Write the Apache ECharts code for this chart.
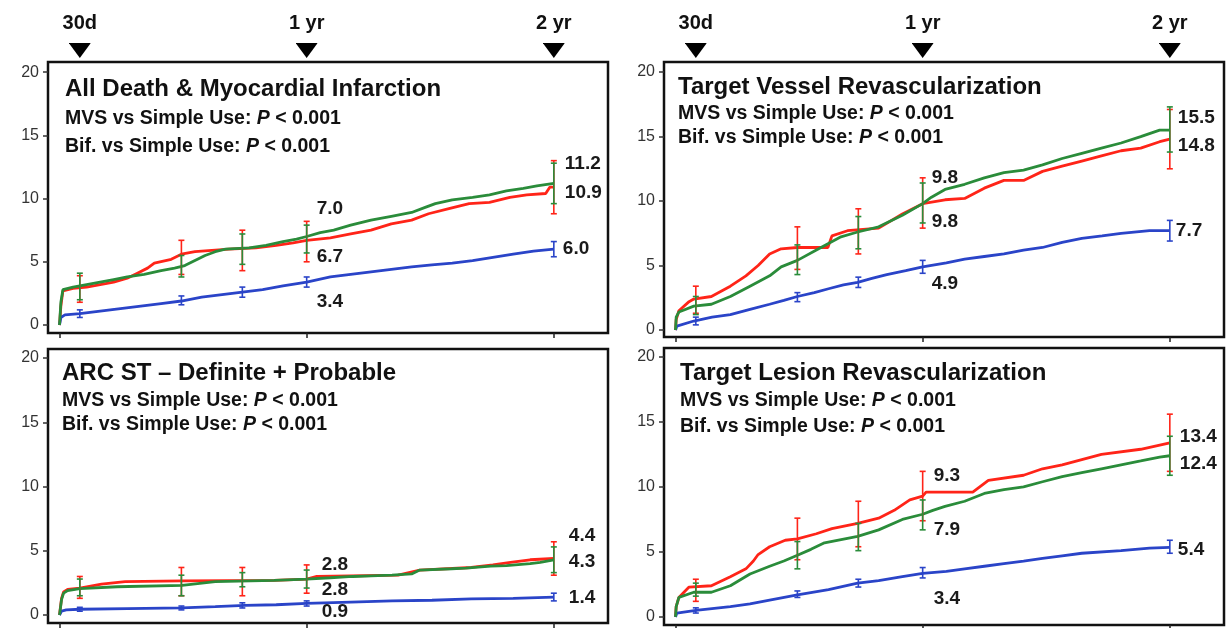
<!DOCTYPE html>
<html><head><meta charset="utf-8">
<script src="https://cdn.jsdelivr.net/npm/echarts@6/dist/echarts.min.js"></script>
<style>html,body{margin:0;padding:0;background:#fff}#c{width:1226px;height:628px}</style>
</head><body><div id="c"></div>
<script>
// ---------- DATA ----------
const yTicks = [0, 5, 10, 15, 20];
const markerDays = [30, 365, 730];
const markerNames = ['30d', '1 yr', '2 yr'];
const bottomTickDays = [0, 365, 730];
const panelTitles = ['All Death & Myocardial Infarction', 'Target Vessel Revascularization',
  'ARC ST \u2013 Definite + Probable', 'Target Lesion Revascularization'];
const compareTexts = ['MVS vs Simple Use: ', 'Bif. vs Simple Use: '];
const pValueText = ' < 0.001';
const seriesNames = ['MVS', 'Bifurcation', 'Simple Use'];

// Top-left: All Death & MI  (days, cumulative %)
const tlRed = [[0,0],[2,1.5],[5,2.7],[20,2.9],[40,3.0],[60,3.2],[80,3.4],[100,3.7],[115,4.1],[130,4.5],[140,4.9],[165,5.2],[180,5.6],[200,5.8],[225,5.9],[250,6.0],[290,6.1],[320,6.3],[345,6.5],[365,6.7],[400,6.9],[430,7.2],[460,7.5],[490,8.0],[520,8.3],[545,8.8],[575,9.2],[605,9.6],[635,9.7],[665,10.1],[690,10.3],[718,10.4],[724,10.9],[730,10.9]];
const tlGreen = [[0,0],[2,1.8],[5,2.8],[20,3.0],[40,3.2],[60,3.4],[80,3.6],[100,3.8],[125,4.0],[150,4.3],[170,4.5],[185,4.7],[200,5.1],[215,5.5],[230,5.8],[245,6.0],[280,6.1],[305,6.3],[330,6.6],[350,6.8],[365,7.0],[385,7.3],[405,7.5],[430,7.9],[460,8.3],[490,8.6],[520,8.9],[540,9.3],[555,9.6],[580,9.9],[610,10.1],[635,10.3],[660,10.6],[685,10.8],[705,11.0],[730,11.2]];
const tlBlue = [[0,0],[2,0.6],[8,0.8],[30,0.9],[60,1.1],[90,1.3],[120,1.5],[150,1.7],[180,1.9],[210,2.2],[240,2.4],[270,2.6],[300,2.8],[330,3.1],[365,3.4],[400,3.8],[430,4.0],[460,4.2],[490,4.4],[520,4.6],[550,4.75],[580,4.9],[610,5.1],[640,5.35],[670,5.6],[700,5.85],[730,6.0]];
const tlRedCI = [[30,1.8,3.9],[180,4.0,6.7],[270,4.3,7.5],[365,5.0,8.2],[730,8.8,13.0]];
const tlGreenCI = [[30,2.0,4.1],[180,3.8,5.5],[270,4.8,7.2],[365,5.7,7.9],[730,9.6,12.8]];
const tlBlueCI = [[30,0.6,1.2],[180,1.6,2.3],[270,2.2,3.0],[365,3.0,3.8],[730,5.4,6.6]];
const tlValueLabels = [[365,7.0],[365,6.7],[365,3.4],[730,11.2],[730,10.9],[730,6.0]];

// Top-right: Target Vessel Revascularization
const trRed = [[0,0],[1,0.8],[5,1.5],[20,2.2],[27,2.4],[53,2.6],[81,3.4],[104,4.2],[122,5.0],[139,5.9],[156,6.3],[180,6.4],[225,6.4],[231,7.3],[254,7.7],[300,7.9],[335,9.0],[365,9.8],[398,10.1],[427,10.2],[456,11.0],[485,11.6],[514,11.6],[542,12.3],[571,12.7],[600,13.1],[629,13.5],[658,13.9],[687,14.1],[715,14.6],[730,14.8]];
const trGreen = [[0,0],[1,1.0],[5,1.4],[27,1.85],[53,2.0],[81,2.6],[110,3.4],[139,4.2],[156,4.9],[180,5.4],[208,6.2],[243,7.2],[269,7.6],[300,8.0],[335,8.9],[365,9.8],[378,10.3],[398,10.9],[427,11.3],[456,11.8],[485,12.2],[514,12.4],[542,12.8],[571,13.3],[600,13.7],[629,14.1],[658,14.5],[687,15.0],[715,15.5],[730,15.5]];
const trBlue = [[0,0],[2,0.3],[27,0.7],[54,1.0],[81,1.2],[110,1.6],[139,2.0],[160,2.3],[180,2.6],[205,2.9],[226,3.2],[248,3.5],[269,3.7],[290,4.0],[312,4.3],[340,4.6],[365,4.9],[400,5.2],[427,5.5],[456,5.7],[485,5.9],[514,6.2],[542,6.4],[571,6.8],[600,7.1],[630,7.3],[658,7.5],[700,7.7],[730,7.7]];
const trRedCI = [[30,1.3,3.4],[180,4.7,8.0],[270,5.9,9.4],[365,7.9,11.8],[730,12.5,17.1]];
const trGreenCI = [[30,1.2,2.6],[180,4.3,6.6],[270,6.3,8.8],[365,8.3,11.4],[730,13.8,17.3]];
const trBlueCI = [[30,0.4,1.0],[180,2.2,2.9],[270,3.3,4.1],[365,4.4,5.4],[730,6.9,8.5]];
const trValueLabels = [[365,9.8],[365,9.8],[365,4.9],[730,15.5],[730,14.8],[730,7.7]];

// Bottom-left: ARC ST definite + probable
const blRed = [[0,0],[3,1.3],[6,1.8],[12,2.0],[30,2.1],[62,2.4],[97,2.6],[181,2.65],[317,2.7],[365,2.8],[380,3.0],[500,3.1],[532,3.5],[608,3.7],[640,3.9],[666,4.1],[695,4.3],[730,4.4]];
const blGreen = [[0,0],[3,1.2],[6,1.7],[12,1.9],[30,2.05],[85,2.2],[181,2.3],[230,2.6],[317,2.7],[365,2.8],[400,2.9],[433,3.0],[460,3.05],[491,3.1],[520,3.2],[532,3.5],[579,3.6],[600,3.65],[637,3.8],[660,3.85],[695,4.0],[710,4.1],[730,4.3]];
const blBlue = [[0,0],[3,0.3],[10,0.4],[30,0.45],[100,0.5],[181,0.55],[230,0.65],[274,0.75],[320,0.8],[365,0.9],[430,1.0],[491,1.1],[550,1.15],[608,1.25],[670,1.3],[730,1.4]];
const blRedCI = [[30,1.3,3.0],[180,1.5,3.7],[270,1.5,3.7],[365,1.7,3.9],[730,3.1,5.7]];
const blGreenCI = [[30,1.5,2.8],[180,1.5,3.1],[270,2.2,3.3],[365,2.1,3.5],[730,3.3,5.3]];
const blBlueCI = [[30,0.3,0.6],[180,0.4,0.7],[270,0.55,0.95],[365,0.7,1.1],[730,1.1,1.7]];
const blValueLabels = [[365,2.8],[365,2.8],[365,0.9],[730,4.4],[730,4.3],[730,1.4]];

// Bottom-right: Target Lesion Revascularization
const brRed = [[0,0],[1,0.8],[5,1.5],[20,2.3],[53,2.4],[81,3.1],[104,3.7],[115,4.3],[122,4.8],[139,5.4],[162,5.9],[180,6.0],[208,6.4],[231,6.8],[269,7.2],[300,7.6],[323,8.2],[346,9.0],[365,9.3],[370,9.6],[439,9.6],[462,10.5],[514,10.9],[542,11.4],[571,11.7],[600,12.1],[629,12.5],[687,12.9],[730,13.4]];
const brGreen = [[0,0],[1,0.8],[5,1.5],[27,1.9],[53,1.9],[81,2.4],[110,3.3],[139,3.9],[160,4.3],[180,4.75],[200,5.2],[220,5.7],[269,6.2],[300,6.7],[335,7.5],[365,7.9],[380,8.2],[398,8.5],[427,8.9],[456,9.5],[485,9.8],[514,10.0],[542,10.4],[571,10.8],[600,11.1],[629,11.4],[658,11.7],[687,12.0],[715,12.3],[730,12.4]];
const brBlue = [[0,0],[2,0.3],[30,0.5],[81,0.8],[110,1.0],[139,1.3],[180,1.7],[226,2.1],[269,2.6],[300,2.8],[335,3.1],[365,3.35],[400,3.5],[427,3.7],[456,3.9],[485,4.1],[514,4.3],[542,4.5],[571,4.7],[600,4.9],[658,5.1],[700,5.3],[730,5.35]];
const brRedCI = [[30,1.2,2.9],[180,4.4,7.6],[270,5.4,8.9],[365,7.4,11.2],[730,11.2,15.6]];
const brGreenCI = [[30,1.6,2.6],[180,3.7,5.8],[270,5.1,7.2],[365,6.7,9.0],[730,10.9,13.9]];
const brBlueCI = [[30,0.3,0.7],[180,1.5,2.0],[270,2.3,2.9],[365,3.0,3.8],[730,4.9,5.9]];
const brValueLabels = [[365,9.3],[365,7.9],[365,3.4],[730,13.4],[730,12.4],[730,5.4]];

// ---------- LAYOUT / STYLE ----------
const FONT = '"Liberation Sans", Arial, sans-serif';
const COLORS = ['#ff2418', '#2a8c3a', '#2a44c8'];
const X_MIN = -17, X_MAX = 810;
const layout = [
  {grid:{left:48, top:62, width:560, height:271}, yMin:-0.63, yMax:20.8, tx:65, ty:[76,108,136], top:true,
   offsets:[[10,-28],[10,16],[10,20],[11,-20],[11,6],[9,0]]},
  {grid:{left:664, top:62, width:560, height:275}, yMin:-0.54, yMax:20.78, tx:678, ty:[74,103,127], top:true,
   offsets:[[9,-26],[9,18],[9,17],[8,-12],[8,7],[6,0]]},
  {grid:{left:48, top:349, width:560, height:274}, yMin:-0.62, yMax:20.7, tx:62, ty:[360,390,414], top:false,
   offsets:[[15,-14],[15,11],[15,8],[15,-23],[15,2],[15,1]]},
  {grid:{left:664, top:348, width:560, height:277}, yMin:-0.62, yMax:20.69, tx:680, ty:[360,390,416], top:false,
   offsets:[[11,-20],[11,16],[11,26],[10,-6],[10,8],[8,3]]}
];
const panelCurves = [[tlRed, tlGreen, tlBlue],[trRed, trGreen, trBlue],[blRed, blGreen, blBlue],[brRed, brGreen, brBlue]];
const panelCIs = [[tlRedCI, tlGreenCI, tlBlueCI],[trRedCI, trGreenCI, trBlueCI],[blRedCI, blGreenCI, blBlueCI],[brRedCI, brGreenCI, brBlueCI]];
const panelLabels = [tlValueLabels, trValueLabels, blValueLabels, brValueLabels];

const triUrl = 'data:image/svg+xml;charset=utf-8,' + encodeURIComponent(
  '<svg xmlns="http://www.w3.org/2000/svg" width="22" height="15"><polygon points="0,0 22,0 11,15" fill="#000"/></svg>');

const grids = [], xAxes = [], yAxes = [], series = [], titles = [];
layout.forEach((L, i) => {
  grids.push(Object.assign({show:true, borderColor:'#111', borderWidth:2.5, backgroundColor:'transparent'}, L.grid));
  const bx = xAxes.length;
  xAxes.push({type:'value', gridIndex:i, min:X_MIN, max:X_MAX, position:'bottom',
    axisLine:{show:false, onZero:false}, splitLine:{show:false},
    axisTick:{show:true, customValues:bottomTickDays, length:5, lineStyle:{color:'#222', width:1.5}},
    axisLabel:{show:false, customValues:bottomTickDays}});
  if (L.top) {
    xAxes.push({type:'value', gridIndex:i, min:X_MIN, max:X_MAX, position:'top',
      axisLine:{show:false, onZero:false}, splitLine:{show:false}, axisTick:{show:false},
      axisLabel:{show:true, customValues:markerDays, margin:4,
        formatter: v => '{t|' + markerNames[markerDays.indexOf(v)] + '}\n{m|}',
        rich:{t:{fontSize:20, fontWeight:'bold', fontFamily:FONT, color:'#111', lineHeight:40, align:'center'},
              m:{width:22, height:15, align:'center', backgroundColor:{image:triUrl}}}}});
  }
  yAxes.push({type:'value', gridIndex:i, min:L.yMin, max:L.yMax,
    axisLine:{show:false, onZero:false}, splitLine:{show:false},
    axisTick:{show:true, customValues:yTicks, length:5, lineStyle:{color:'#333', width:1.5}},
    axisLabel:{customValues:yTicks, fontSize:16, color:'#333', fontFamily:FONT, margin:9}});

  // curves
  panelCurves[i].forEach((d, k) => {
    series.push({type:'line', name:seriesNames[k], xAxisIndex:bx, yAxisIndex:i, data:d,
      symbol:'none', lineStyle:{color:COLORS[k], width:2.8}, z:3 + (k === 1 ? 1 : 0)});
  });
  // error bars
  panelCIs[i].forEach((d, k) => {
    series.push({type:'custom', xAxisIndex:bx, yAxisIndex:i, data:d, z:5,
      renderItem:(params, api) => {
        const x = api.value(0);
        const p1 = api.coord([x, api.value(1)]), p2 = api.coord([x, api.value(2)]);
        const st = {stroke:COLORS[k], lineWidth:1.6};
        return {type:'group', children:[
          {type:'line', shape:{x1:p1[0], y1:p1[1], x2:p2[0], y2:p2[1]}, style:st},
          {type:'line', shape:{x1:p1[0]-3, y1:p1[1], x2:p1[0]+3, y2:p1[1]}, style:st},
          {type:'line', shape:{x1:p2[0]-3, y1:p2[1], x2:p2[0]+3, y2:p2[1]}, style:st}
        ]};
      }});
  });
  // value labels
  series.push({type:'custom', xAxisIndex:bx, yAxisIndex:i, data:panelLabels[i], z:6,
    renderItem:(params, api) => {
      const p = api.coord([api.value(0), api.value(1)]);
      const off = L.offsets[params.dataIndex];
      return {type:'text', x:p[0] + off[0], y:p[1] + off[1],
        style:{text:api.value(1).toFixed(1), fill:'#1a1a1a', fontSize:19, fontWeight:'bold',
               fontFamily:FONT, align:'left', verticalAlign:'middle'}};
    }});

  // titles
  titles.push({text:panelTitles[i], left:L.tx, top:L.ty[0], padding:0,
    textStyle:{fontSize:24, fontWeight:'bold', fontFamily:FONT, color:'#111', lineHeight:26}});
  compareTexts.forEach((c, j) => {
    titles.push({text:'{b|' + c + '}{i|P}{b|' + pValueText + '}', left:L.tx, top:L.ty[j + 1], padding:0,
      textStyle:{rich:{
        b:{fontSize:19.5, fontWeight:'bold', fontFamily:FONT, color:'#111', lineHeight:22},
        i:{fontSize:19.5, fontWeight:'bold', fontStyle:'italic', fontFamily:FONT, color:'#111', lineHeight:22}}}});
  });
});

const chart = echarts.init(document.getElementById('c'), null, {renderer:'canvas'});
chart.setOption({animation:false, backgroundColor:'#fff', title:titles, grid:grids,
  xAxis:xAxes, yAxis:yAxes, series:series, tooltip:{show:false}});
</script></body></html>
